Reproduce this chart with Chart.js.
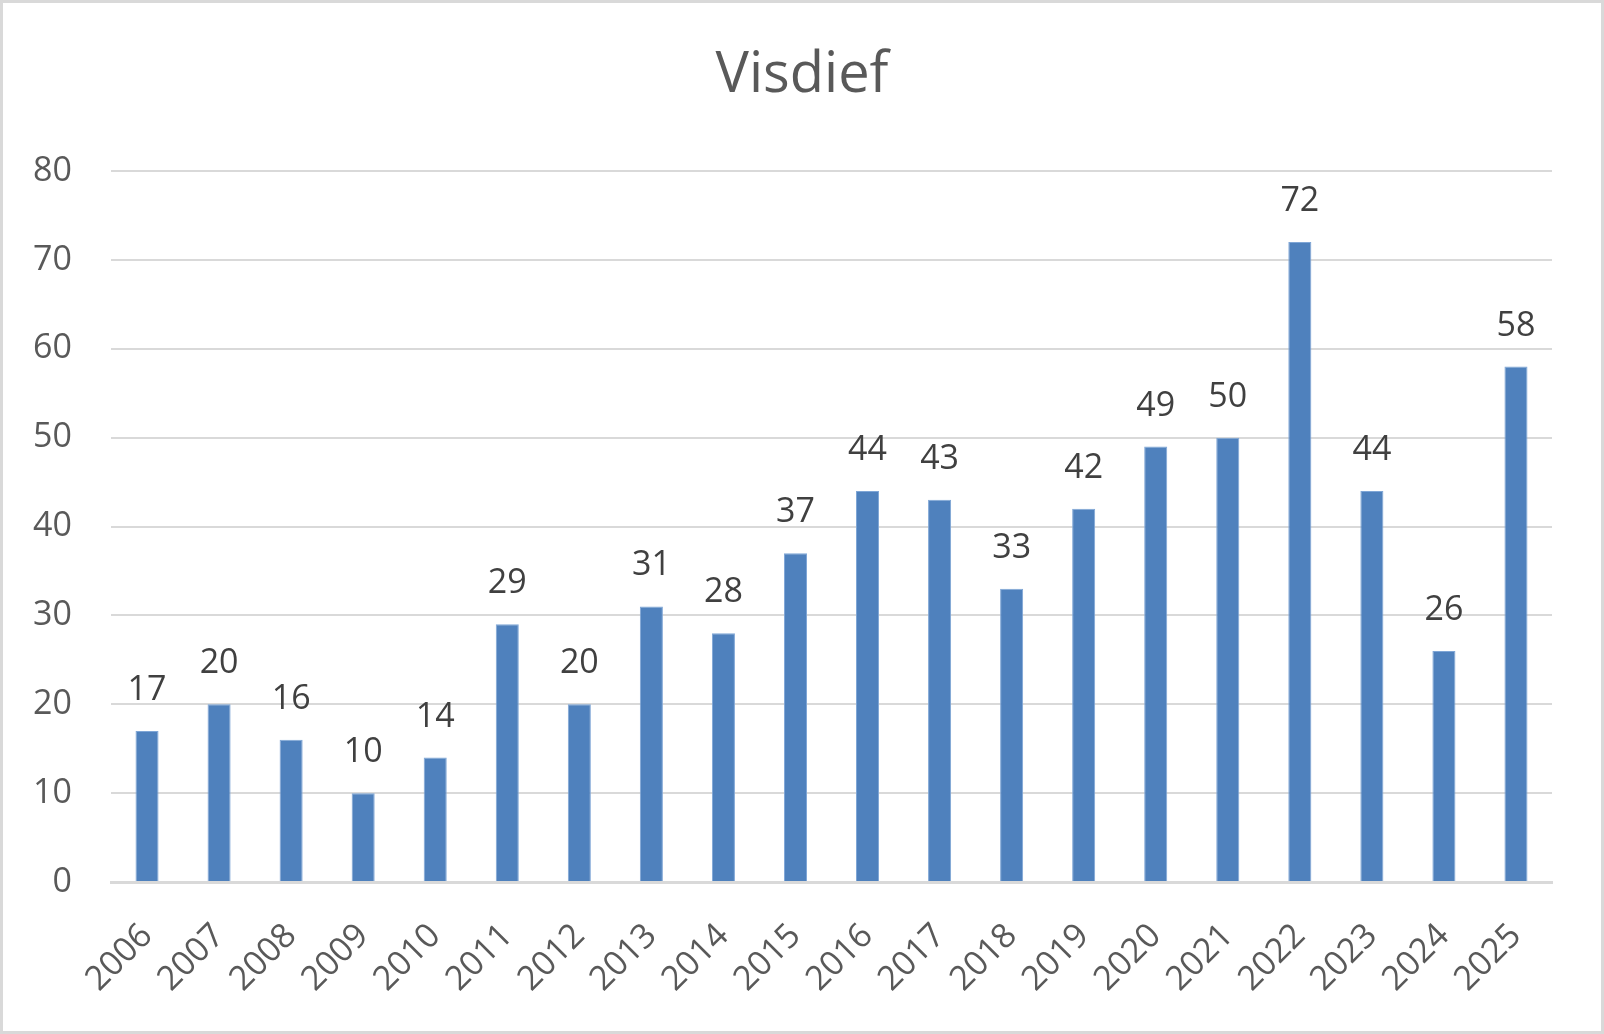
<!DOCTYPE html>
<html>
<head>
<meta charset="utf-8">
<script src="https://cdn.jsdelivr.net/npm/chart.js@4/dist/chart.umd.min.js"></script>
<style>
  html, body { margin: 0; padding: 0; background: #ffffff; }
  #wrap { position: relative; width: 1604px; height: 1034px; }
</style>
</head>
<body>
<div id="wrap"><canvas id="c"></canvas></div>
<script>
const chartTitle = 'Visdief';
const years = ['2006','2007','2008','2009','2010','2011','2012','2013','2014','2015',
               '2016','2017','2018','2019','2020','2021','2022','2023','2024','2025'];
const counts = [17, 20, 16, 10, 14, 29, 20, 31, 28, 37, 44, 43, 33, 42, 49, 50, 72, 44, 26, 58];
const yMin = 0, yMax = 80, yStep = 10;

const FONT = "'Open Sans', 'DejaVu Sans', sans-serif";

const valueLabels = {
  id: 'valueLabels',
  afterDatasetsDraw(chart) {
    const ctx = chart.ctx;
    const meta = chart.getDatasetMeta(0);
    ctx.save();
    ctx.font = '34px ' + FONT;
    ctx.fillStyle = '#404040';
    ctx.textAlign = 'center';
    ctx.textBaseline = 'alphabetic';
    meta.data.forEach((bar, i) => {
      ctx.fillText(String(counts[i]), bar.x, bar.y - 31);
    });
    ctx.restore();
  }
};

const frame = {
  id: 'frame',
  beforeDraw(chart) {
    const ctx = chart.ctx;
    ctx.save();
    ctx.fillStyle = '#ffffff';
    ctx.fillRect(0, 0, chart.width, chart.height);
    ctx.restore();
  },
  afterDraw(chart) {
    const ctx = chart.ctx;
    ctx.save();
    // centred title over the whole canvas
    ctx.font = '56px ' + FONT;
    ctx.fillStyle = '#595959';
    ctx.textAlign = 'center';
    ctx.textBaseline = 'middle';
    ctx.fillText(chartTitle, chart.width / 2, 76);
    // outer frame
    ctx.strokeStyle = '#d9d9d9';
    ctx.lineWidth = 3;
    ctx.strokeRect(1.5, 1.5, chart.width - 3, chart.height - 3);
    ctx.restore();
  }
};

new Chart(document.getElementById('c'), {
  type: 'bar',
  data: {
    labels: years,
    datasets: [{
      data: counts,
      backgroundColor: '#4f81bd',
      borderColor: '#7fa6d6',
      borderWidth: 1,
      barPercentage: 0.32,
      categoryPercentage: 1.0
    }]
  },
  options: {
    responsive: true,
    maintainAspectRatio: false,
    animation: false,
    devicePixelRatio: 1,
    layout: { padding: { left: 0, right: 52, top: 171, bottom: 0 } },
    plugins: {
      legend: { display: false },
      tooltip: { enabled: false },
      title: { display: false }
    },
    scales: {
      x: {
        grid: { display: false, drawTicks: false },
        border: { display: true, color: '#d9d9d9', width: 3 },
        ticks: {
          color: '#595959',
          font: { family: FONT, size: 34 },
          minRotation: 45,
          maxRotation: 45,
          autoSkip: false,
          padding: 34
        },
        afterFit(scale) { scale.height = 152; }
      },
      y: {
        min: yMin,
        max: yMax,
        grid: { color: '#d9d9d9', lineWidth: 2, drawTicks: false },
        border: { display: false },
        ticks: {
          stepSize: yStep,
          color: '#595959',
          font: { family: FONT, size: 34 },
          padding: 39
        },
        afterFit(scale) { scale.width = 111; }
      }
    }
  },
  plugins: [frame, valueLabels]
});
</script>
</body>
</html>
